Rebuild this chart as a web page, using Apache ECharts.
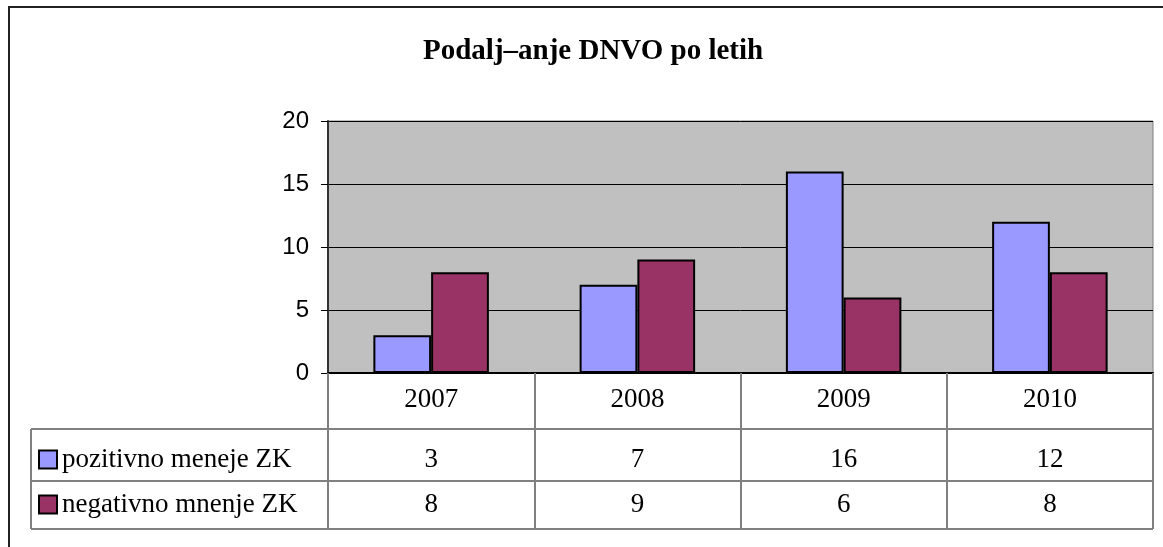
<!DOCTYPE html>
<html>
<head>
<meta charset="utf-8">
<script src="https://cdn.jsdelivr.net/npm/echarts@6/dist/echarts.min.js"></script>
<style>
  html, body { margin: 0; padding: 0; background: #fff; }
  #chart { width: 1163px; height: 547px; }
</style>
</head>
<body>
<div id="chart"></div>
<script>
'use strict';
/* chart data */
var years = ['2007', '2008', '2009', '2010'];
var posName = 'pozitivno meneje ZK';
var negName = 'negativno mnenje ZK';
var posVals = [3, 7, 16, 12];
var negVals = [8, 9, 6, 8];
var yTicks = [0, 5, 10, 15, 20];

var serif = '"Liberation Serif", "Times New Roman", serif';
var sans = '"Liberation Sans", Arial, sans-serif';
var tableLine = { stroke: '#808080', lineWidth: 2 };

var chart = echarts.init(document.getElementById('chart'));

var option = {
  animation: false,
  backgroundColor: '#fff',
  title: {
    text: 'Podalj–anje DNVO po letih',
    left: 418,
    top: 32,
    textStyle: { fontFamily: serif, fontSize: 29, fontWeight: 'bold', color: '#000' }
  },
  legend: {
    orient: 'vertical',
    left: 38,
    top: 446,
    padding: 0,
    itemGap: 18,
    itemWidth: 18,
    itemHeight: 18,
    icon: 'rect',
    data: [posName, negName],
    itemStyle: { borderColor: '#000', borderWidth: 2 },
    textStyle: { fontFamily: serif, fontSize: 27, color: '#000' }
  },
  grid: {
    left: 328, top: 121, width: 825, height: 252,
    show: true, backgroundColor: '#c0c0c0', borderColor: '#808080', borderWidth: 1
  },
  xAxis: [{
    type: 'category',
    data: years,
    axisLine: { lineStyle: { color: '#000', width: 2 } },
    axisTick: { show: true, length: 156, lineStyle: { color: '#808080', width: 2 } },
    axisLabel: { margin: 13, fontFamily: serif, fontSize: 27, color: '#000' }
  }, {
    type: 'category',
    data: years,
    position: 'bottom',
    offset: 56,
    axisLine: { show: false },
    axisTick: { show: false },
    axisLabel: {
      margin: 17, fontFamily: serif, fontSize: 27, color: '#000',
      formatter: function(v, i) { return String(posVals[i]); }
    }
  }, {
    type: 'category',
    data: years,
    position: 'bottom',
    offset: 108,
    axisLine: { show: false },
    axisTick: { show: false },
    axisLabel: {
      margin: 10, fontFamily: serif, fontSize: 27, color: '#000',
      formatter: function(v, i) { return String(negVals[i]); }
    }
  }],
  yAxis: {
    type: 'value',
    min: yTicks[0],
    max: yTicks[yTicks.length - 1],
    interval: 5,
    axisLine: { show: true, lineStyle: { color: '#333', width: 2 } },
    axisTick: { show: true, length: 7, lineStyle: { color: '#000' } },
    axisLabel: { margin: 19, fontFamily: sans, fontSize: 24, color: '#000' },
    splitLine: { lineStyle: { color: '#000', width: 1 } }
  },
  series: [{
    name: posName,
    type: 'bar',
    data: posVals,
    barGap: '0%',
    barCategoryGap: '44%',
    itemStyle: { color: '#9999ff', borderColor: '#000', borderWidth: 2 }
  }, {
    name: negName,
    type: 'bar',
    data: negVals,
    itemStyle: { color: '#993366', borderColor: '#000', borderWidth: 2 }
  }],
  graphic: [
    // outer frame
    { type: 'rect', shape: { x: 9, y: 7, width: 1200, height: 600 },
      style: { fill: null, stroke: '#222', lineWidth: 2 }, silent: true },
    // data table rules
    { type: 'line', shape: { x1: 31, y1: 429, x2: 1153, y2: 429 }, style: tableLine },
    { type: 'line', shape: { x1: 31, y1: 481, x2: 1153, y2: 481 }, style: tableLine },
    { type: 'line', shape: { x1: 31, y1: 529, x2: 1153, y2: 529 }, style: tableLine },
    { type: 'line', shape: { x1: 31, y1: 429, x2: 31, y2: 529 }, style: tableLine }
  ]
};

chart.setOption(option);
</script>
</body>
</html>
